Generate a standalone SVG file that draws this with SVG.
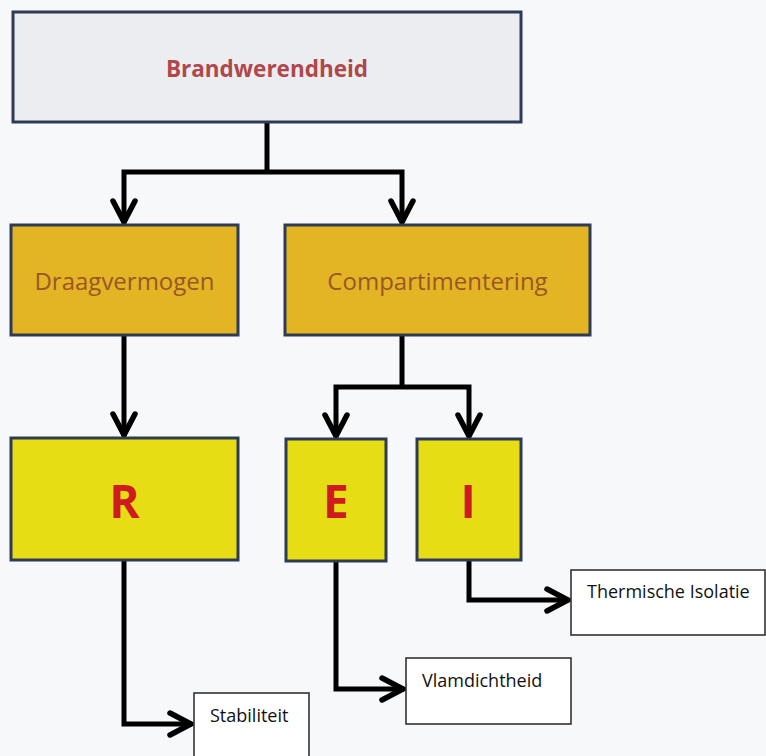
<svg xmlns="http://www.w3.org/2000/svg" width="766" height="756" viewBox="0 0 766 756">
<style>
.box{stroke:#2e3b55;stroke-width:3}
.top{fill:#ecedf1}
.mid{fill:#e3b423}
.low{fill:#e6dd14}
.leaf{fill:#ffffff;stroke:#333;stroke-width:1.6}
.t1{font-family:"Open Sans","Liberation Sans",sans-serif;font-weight:bold;font-size:22.5px;fill:#b0474a;text-anchor:middle}
.t2{font-family:"Open Sans","Liberation Sans",sans-serif;font-size:24px;fill:#9a5628;text-anchor:middle}
.t3{font-family:"Open Sans","Liberation Sans",sans-serif;font-weight:bold;font-size:46px;fill:#cf1b1e;text-anchor:middle}
.t4{font-family:"Open Sans","Liberation Sans",sans-serif;font-size:18px;fill:#111}
.c{fill:none;stroke:#000;stroke-width:5;stroke-linejoin:miter}
</style>
<defs>
<marker id="ah" markerUnits="userSpaceOnUse" viewBox="-30 -16 34 32" markerWidth="34" markerHeight="32" refX="0" refY="0" orient="auto" overflow="visible">
<path d="M -22 -11 L -1 0 L -22 11" fill="none" stroke="#000" stroke-width="5.5" stroke-linecap="round"/>
</marker>
</defs>
<rect width="766" height="756" fill="#f7f8fa"/>
<g id="connectors">
<path class="c" d="M 267 122 V 172"/>
<path class="c" d="M 267 172 H 124 V 223" marker-end="url(#ah)"/>
<path class="c" d="M 267 172 H 402 V 223" marker-end="url(#ah)"/>
<path class="c" d="M 124 335 V 436" marker-end="url(#ah)"/>
<path class="c" d="M 402 335 V 387"/>
<path class="c" d="M 402 387 H 336 V 437" marker-end="url(#ah)"/>
<path class="c" d="M 402 387 H 469 V 437" marker-end="url(#ah)"/>
<path class="c" d="M 124 560 V 724 H 192" marker-end="url(#ah)"/>
<path class="c" d="M 336 561 V 689 H 404" marker-end="url(#ah)"/>
<path class="c" d="M 469 560 V 600 H 569" marker-end="url(#ah)"/>
</g>
<g id="brandwerendheid">
<rect class="box top" x="13" y="12" width="508" height="110"/>
<text class="t1" x="267" y="77">Brandwerendheid</text>
</g>
<g id="draagvermogen">
<rect class="box mid" x="11" y="225" width="227" height="110"/>
<text class="t2" x="124.5" y="290">Draagvermogen</text>
</g>
<g id="compartimentering">
<rect class="box mid" x="285" y="225" width="305" height="110"/>
<text class="t2" x="437.5" y="290">Compartimentering</text>
</g>
<g id="R">
<rect class="box low" x="11" y="438" width="227" height="122"/>
<text class="t3" x="124.5" y="518">R</text>
</g>
<g id="E">
<rect class="box low" x="286" y="439" width="100" height="122"/>
<text class="t3" x="336" y="518">E</text>
</g>
<g id="I">
<rect class="box low" x="417" y="439" width="104" height="121"/>
<text class="t3" x="468" y="518">I</text>
</g>
<g id="stabiliteit">
<rect class="leaf" x="194" y="693" width="115" height="70"/>
<text class="t4" x="210" y="722">Stabiliteit</text>
</g>
<g id="vlamdichtheid">
<rect class="leaf" x="406" y="658" width="165" height="66"/>
<text class="t4" x="422" y="687">Vlamdichtheid</text>
</g>
<g id="thermische-isolatie">
<rect class="leaf" x="571" y="570" width="194" height="65"/>
<text class="t4" x="587" y="598">Thermische Isolatie</text>
</g>
</svg>
